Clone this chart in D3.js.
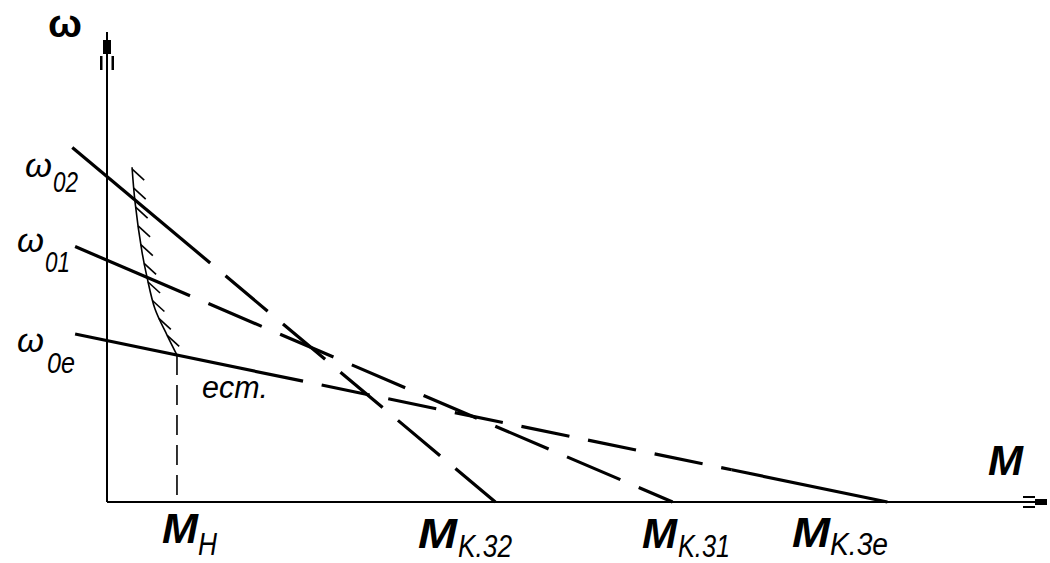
<html><head>
<meta charset="UTF-8">
<title>Mechanical characteristics</title>
<script src="https://cdn.jsdelivr.net/npm/d3@7"></script>
<style>
  body { margin: 0; background: #fff; }
  svg text { font-family: "Liberation Sans", Arial, sans-serif; fill: #000; }
  .ln { fill: none; stroke: #000; stroke-width: 3.2px; }
  .ax { fill: none; stroke: #000; stroke-width: 2px; }
  .thin { fill: none; stroke: #000; stroke-width: 1.6px; }
</style>
</head>
<body>
<div id="chart"></div>
<script>
// characteristic lines: no-load speed w0, stall torque Mk, start of line, end of solid part
const lineNames = ['02', '01', '0e'];
const lineW0 = [70, 52, 34.7];
const lineMk = [41.4, 60.3, 83.2];
const lineStart = [-3.7, -3.4, -3.4];
const lineSolidEnd = [11.0, 8.85, 20.9];
const lineTailStart = [41.4, 60.3, 66.6]; // solid again from here to Mk
const lineDash = [[55, 20], [58, 20], [49, 19]];

// boundary curve (hatched), in M / omega units
const curveM = [2.67, 2.99, 3.73, 4.26, 5.12, 6.40, 7.46];
const curveW = [72.0, 64.5, 53.8, 48.4, 41.5, 35.9, 31.6];

const Mn = 7.46;

// axis-label layout
const torqueLabels = [
  {main: 'M', sub: 'H', m: Mn},
  {main: 'M', sub: 'K.32', m: lineMk[0]},
  {main: 'M', sub: 'K.31', m: lineMk[1]},
  {main: 'M', sub: 'K.3e', m: lineMk[2]}
];

const width = 1050, height = 563;
const x = d3.scaleLinear().domain([0, 100]).range([107, 1045]);
const y = d3.scaleLinear().domain([0, 100]).range([502, 37]);

const svg = d3.select('#chart').append('svg')
    .attr('width', width)
    .attr('height', height);

// axes
svg.append('line').attr('class', 'ax')
    .attr('x1', x(0)).attr('y1', y(0)).attr('x2', x(0)).attr('y2', 32);
svg.append('line').attr('class', 'ax')
    .attr('x1', x(0)).attr('y1', y(0)).attr('x2', 1046).attr('y2', y(0));

// y arrow
svg.append('rect').attr('x', x(0) - 4).attr('y', 40).attr('width', 8).attr('height', 14);
svg.append('rect').attr('x', x(0) - 7).attr('y', 56).attr('width', 2.5).attr('height', 14);
svg.append('rect').attr('x', x(0) + 4.5).attr('y', 56).attr('width', 2.5).attr('height', 14);
// x arrow
svg.append('rect').attr('x', 1035).attr('y', y(0) - 3).attr('width', 12).attr('height', 6);
svg.append('rect').attr('x', 1023).attr('y', y(0) - 6).attr('width', 12).attr('height', 2);
svg.append('rect').attr('x', 1023).attr('y', y(0) + 4).attr('width', 12).attr('height', 2);

// characteristic lines
const wAt = (i, m) => lineW0[i] * (1 - m / lineMk[i]);
lineNames.forEach((name, i) => {
  svg.append('line').attr('class', 'ln')
      .attr('x1', x(lineStart[i])).attr('y1', y(wAt(i, lineStart[i])))
      .attr('x2', x(lineSolidEnd[i])).attr('y2', y(wAt(i, lineSolidEnd[i])));
  const [d, g] = lineDash[i];
  svg.append('line').attr('class', 'ln')
      .attr('x1', x(lineSolidEnd[i])).attr('y1', y(wAt(i, lineSolidEnd[i])))
      .attr('x2', x(lineTailStart[i])).attr('y2', y(wAt(i, lineTailStart[i])))
      .attr('stroke-dasharray', d + ',' + g)
      .attr('stroke-dashoffset', d);
  if (lineTailStart[i] < lineMk[i]) {
    svg.append('line').attr('class', 'ln')
        .attr('x1', x(lineTailStart[i])).attr('y1', y(wAt(i, lineTailStart[i])))
        .attr('x2', x(lineMk[i])).attr('y2', y(0));
  }
});

// hatched boundary curve
const curvePts = curveM.map((m, i) => [x(m), y(curveW[i])]);
const curvePath = svg.append('path').attr('class', 'thin')
    .attr('d', d3.line().curve(d3.curveCatmullRom)(curvePts));
const node = curvePath.node();
const len = node.getTotalLength();
for (let s = 2; s < len - 8; s += 19) {
  const p = node.getPointAtLength(s);
  svg.append('line').attr('class', 'thin')
      .attr('stroke-width', 1.2)
      .attr('x1', p.x).attr('y1', p.y)
      .attr('x2', p.x + 12).attr('y2', p.y + 11);
}

// vertical dashed line at M_H
svg.append('line').attr('class', 'thin')
    .attr('stroke-width', 1.8)
    .attr('x1', x(Mn)).attr('y1', y(wAt(2, Mn)))
    .attr('x2', x(Mn)).attr('y2', y(0))
    .attr('stroke-dasharray', '20,10');

// labels
function label(tx, ty, str, size, len, opts) {
  const t = svg.append('text')
      .attr('x', tx).attr('y', ty)
      .attr('font-size', size)
      .attr('textLength', len)
      .attr('lengthAdjust', 'spacingAndGlyphs')
      .text(str);
  if (opts && opts.bold) t.attr('font-weight', 'bold');
  if (opts && opts.italic) t.attr('font-style', 'italic');
  return t;
}

label(48, 37, 'ω', 38, 34, {bold: true});
label(988, 475, 'M', 42, 35, {bold: true, italic: true});

const omegaLabelX = [25, 17, 17];
const omegaLabelBase = [177, 252, 352];
const subX = [53, 45, 47];
const subBase = [192, 272, 373];
const subLen = [25, 25, 28];
lineNames.forEach((name, i) => {
  label(omegaLabelX[i], omegaLabelBase[i], 'ω', 34, 27, {italic: true});
  label(subX[i], subBase[i], name, 30, subLen[i], {italic: true});
});

label(202, 398, 'ecm.', 31, 66, {italic: true});

const mainX = [162, 418, 642, 792];
const mainLen = [36, 39, 35, 38];
const mainBase = [543, 548, 548, 547];
const subTX = [198, 458, 678, 830];
const subTLen = [19, 54, 52, 58];
const subTBase = [555, 557, 557, 555];
torqueLabels.forEach((d, i) => {
  label(mainX[i], mainBase[i], d.main, 42, mainLen[i], {bold: true, italic: true});
  label(subTX[i], subTBase[i], d.sub, 31, subTLen[i], {italic: true});
});
</script>
</body></html>
